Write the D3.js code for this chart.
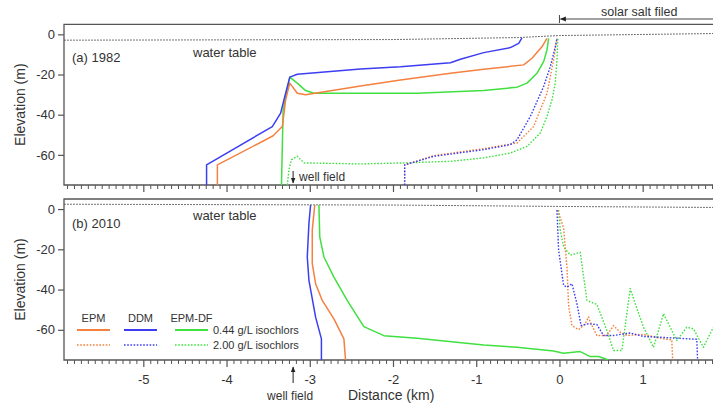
<!DOCTYPE html>
<html>
<head>
<meta charset="utf-8">
<script src="https://cdn.jsdelivr.net/npm/d3@7"></script>
<style>
  html, body { margin: 0; padding: 0; background: #fff; }
  svg { display: block; font-family: "Liberation Sans", Arial, sans-serif; }
</style>
</head>
<body>
<svg id="chart" width="713" height="405"></svg>
<script>
// ---------- data ----------
const xTicks = [-5, -4, -3, -2, -1, 0, 1];
const yTicks = [0, -20, -40, -60];
const models = ["EPM", "DDM", "EPM-DF"];
const isochlorLabels = ["0.44 g/L isochlors", "2.00 g/L isochlors"];
const panelLabels = ["(a) 1982", "(b) 2010"];

// (a) 1982 — [distance km, elevation m]
const a_EPM_044 = [[-4.11,-75],[-4.11,-65],[-3.44,-50.5],[-3.33,-45.9],[-3.29,-32.6],[-3.24,-24.3],[-3.15,-29.3],[-3.05,-30.1],[-2.39,-25.7],[-1.91,-22.7],[-1.31,-19.4],[-0.91,-17.4],[-0.43,-15.2],[-0.33,-11.9],[-0.21,-6.2],[-0.15,-2.0]];
const a_DDM_044 = [[-4.24,-75],[-4.24,-65],[-3.45,-45.9],[-3.35,-39.2],[-3.29,-29.3],[-3.24,-21.3],[-3.15,-19.9],[-2.39,-17.2],[-1.91,-16.1],[-1.31,-14.1],[-1.19,-12.4],[-0.91,-9.1],[-0.59,-6.6],[-0.49,-4.5],[-0.45,-1.7]];
const a_EPMDF_044 = [[-3.34,-75],[-3.32,-37.6],[-3.24,-21.3],[-3.15,-24.3],[-3.05,-28.0],[-2.95,-29.3],[-1.71,-29.3],[-0.91,-28.0],[-0.51,-26.3],[-0.39,-24.3],[-0.27,-19.4],[-0.19,-13.6],[-0.15,-7.8],[-0.13,-2.0]];
const a_EPM_200 = [[-1.86,-75],[-1.86,-65],[-1.51,-60.4],[-0.91,-56.9],[-0.51,-54.1],[-0.31,-45.9],[-0.15,-29.3],[-0.07,-12.8],[-0.03,-2.0]];
const a_DDM_200 = [[-1.86,-75],[-1.86,-65],[-1.51,-60.7],[-0.91,-57.4],[-0.59,-54.9],[-0.51,-52.5],[-0.35,-40.9],[-0.19,-26.0],[-0.11,-16.1],[-0.05,-6.2],[-0.03,-2.0]];
const a_EPMDF_200 = [[-3.27,-75],[-3.25,-67.3],[-3.22,-62.4],[-3.15,-60.7],[-3.07,-64.0],[-2.39,-64.5],[-1.87,-64.0],[-1.31,-63.2],[-0.91,-61.5],[-0.59,-59.1],[-0.39,-55.8],[-0.23,-49.1],[-0.15,-40.9],[-0.09,-32.6],[-0.05,-24.3],[-0.03,-12.8],[-0.02,-2.0]];
const a_waterTable = [[-5.95,-2.9],[-2,-2.6],[-0.5,-1.6],[0,-0.6],[1.85,0.4]];

// (b) 2010
const b_EPM_044 = [[-2.94,2],[-2.97,-10.5],[-2.97,-27.1],[-2.93,-37.1],[-2.85,-45.4],[-2.71,-54.6],[-2.59,-64.5],[-2.57,-75]];
const b_DDM_044 = [[-2.99,2],[-3.01,-7.1],[-3.03,-23.8],[-3.01,-35.4],[-2.93,-53.7],[-2.86,-64.5],[-2.86,-75]];
const b_EPMDF_044 = [[-2.89,2],[-2.88,-13.8],[-2.83,-23.8],[-2.71,-33.8],[-2.55,-45.4],[-2.45,-52],[-2.35,-58.4],[-2.11,-62.9],[-1.71,-64.2],[-0.91,-67.5],[-0.51,-68.7],[-0.07,-70.5],[0.05,-71.6],[0.25,-70.8],[0.37,-73.3],[0.47,-73.3],[0.59,-75]];
const b_EPM_200 = [[-0.02,-0.5],[0.05,-9.5],[0.09,-28.8],[0.11,-47.9],[0.15,-57.9],[0.23,-59.9],[0.31,-57.0],[0.35,-53.6],[0.37,-56.2],[0.45,-62.8],[0.57,-62.8],[0.65,-57.9],[0.73,-61.2],[0.81,-62.8],[1.01,-62.3],[1.25,-64.5],[1.35,-65.0],[1.36,-75]];
const b_DDM_200 = [[-0.03,-0.5],[-0.01,-20.4],[0.05,-37.9],[0.09,-38.8],[0.15,-37.1],[0.21,-47.0],[0.26,-57.9],[0.35,-57.0],[0.45,-57.4],[0.53,-62.8],[0.65,-62.8],[0.85,-61.6],[1.01,-63.3],[1.21,-63.7],[1.65,-64.7],[1.66,-75]];
const b_EPMDF_200 = [[-0.01,-0.5],[0.01,-10.5],[0.05,-18.8],[0.13,-22.9],[0.25,-21.5],[0.33,-45.4],[0.45,-47.4],[0.57,-60.3],[0.65,-70.3],[0.75,-70.3],[0.85,-39.5],[0.91,-47.0],[1.01,-58.7],[1.13,-68.7],[1.25,-52.0],[1.41,-65.3],[1.53,-58.7],[1.61,-59.5],[1.73,-68.7],[1.83,-60.3],[1.9,-55]];
const b_waterTable = [[-5.95,2.4],[-2,2.0],[0,1.3],[1.85,0.8]];

const wellFieldX = -3.2;
const saltFieldX = 0;

// ---------- styling ----------
const colors = { "EPM": "#f4813f", "DDM": "#3d3df2", "EPM-DF": "#3fe03f" };
const textColor = "#333";
const frameColor = "#555";

const svg = d3.select("#chart");
const left = 64, right = 713;
const x = d3.scaleLinear().domain([-5.953, 1.845]).range([left, right]);
const yA = d3.scaleLinear().domain([-75, 5]).range([185, 24.3]);
const yB = d3.scaleLinear().domain([-75, 5]).range([360, 199]);

const minorTicks = d3.range(Math.ceil(-5.953 * 12), Math.floor(1.845 * 12) + 1)
  .filter(k => k % 12 !== 0).map(k => k / 12);

function panel(id, y, label, series, water, showXLabels, labelY, waterLabelY) {
  const g = svg.append("g");
  const top = y.range()[1], bot = y.range()[0];
  svg.append("clipPath").attr("id", "clip" + id)
    .append("rect").attr("x", left).attr("y", top).attr("width", right - left + 10).attr("height", bot - top);

  // y axis
  const ya = g.append("g").attr("transform", `translate(${left},0)`)
    .call(d3.axisLeft(y).tickValues(yTicks).tickSize(6).tickPadding(3).tickFormat(d => String(d)));
  ya.select(".domain").remove();
  ya.selectAll(".tick line").attr("stroke", frameColor).attr("stroke-width", 1.2);
  ya.selectAll(".tick text").attr("fill", textColor).style("font-size", "13px");

  // x axis (major + minor)
  const xa = g.append("g").attr("transform", `translate(0,${bot})`)
    .call(d3.axisBottom(x).tickValues(xTicks).tickSize(7).tickPadding(8)
      .tickFormat(showXLabels ? (d => String(d)) : (() => "")));
  xa.select(".domain").remove();
  xa.selectAll(".tick line").attr("stroke", frameColor).attr("stroke-width", 1.2);
  xa.selectAll(".tick text").attr("fill", textColor).style("font-size", "13px");
  const xm = g.append("g").attr("transform", `translate(0,${bot})`)
    .call(d3.axisBottom(x).tickValues(minorTicks).tickSize(4).tickFormat(() => ""));
  xm.select(".domain").remove();
  xm.selectAll(".tick line").attr("stroke", frameColor).attr("stroke-width", 1);

  // frame (left, top, bottom)
  g.append("path")
    .attr("d", `M${right + 5},${top}H${left}V${bot}H${right + 5}`)
    .attr("fill", "none").attr("stroke", frameColor).attr("stroke-width", 1.3);

  const line = d3.line().x(d => x(d[0])).y(d => y(d[1]));
  const plot = g.append("g").attr("clip-path", `url(#clip${id})`);

  plot.append("path").datum(water).attr("d", line)
    .attr("fill", "none").attr("stroke", "#444").attr("stroke-width", 1)
    .attr("stroke-dasharray", "1.5,1.5");

  series.forEach(s => {
    plot.append("path").datum(s.data).attr("d", line)
      .attr("fill", "none").attr("stroke", colors[s.model])
      .attr("stroke-width", s.dotted ? 1.4 : 1.5)
      .attr("stroke-dasharray", s.dotted ? "1.6,1.6" : null)
      .attr("stroke-linejoin", "round");
  });

  g.append("text").attr("x", 72).attr("y", labelY).text(label)
    .attr("fill", textColor).style("font-size", "13px");
  g.append("text").attr("x", 193).attr("y", waterLabelY).text("water table")
    .attr("fill", textColor).style("font-size", "13px");
  return g;
}

panel("A", yA, panelLabels[0], [
  { model: "EPM-DF", dotted: true, data: a_EPMDF_200 },
  { model: "EPM", dotted: true, data: a_EPM_200 },
  { model: "DDM", dotted: true, data: a_DDM_200 },
  { model: "EPM-DF", dotted: false, data: a_EPMDF_044 },
  { model: "EPM", dotted: false, data: a_EPM_044 },
  { model: "DDM", dotted: false, data: a_DDM_044 }
], a_waterTable, false, 62, 57);

panel("B", yB, panelLabels[1], [
  { model: "EPM-DF", dotted: true, data: b_EPMDF_200 },
  { model: "EPM", dotted: true, data: b_EPM_200 },
  { model: "DDM", dotted: true, data: b_DDM_200 },
  { model: "EPM-DF", dotted: false, data: b_EPMDF_044 },
  { model: "EPM", dotted: false, data: b_EPM_044 },
  { model: "DDM", dotted: false, data: b_DDM_044 }
], b_waterTable, true, 228, 220);

// axis titles
svg.append("text").attr("transform", `translate(25,${(yA(5) + yA(-75)) / 2}) rotate(-90)`)
  .attr("text-anchor", "middle").attr("fill", textColor).style("font-size", "14px").text("Elevation (m)");
svg.append("text").attr("transform", `translate(25,${(yB(5) + yB(-75)) / 2}) rotate(-90)`)
  .attr("text-anchor", "middle").attr("fill", textColor).style("font-size", "14px").text("Elevation (m)");
svg.append("text").attr("x", 348).attr("y", 400).attr("fill", textColor)
  .style("font-size", "14px").text("Distance (km)");

// arrow marker
const defs = svg.append("defs");
defs.append("marker").attr("id", "arr").attr("viewBox", "0 0 10 10").attr("refX", 9).attr("refY", 5)
  .attr("markerWidth", 6).attr("markerHeight", 6).attr("orient", "auto-start-reverse")
  .append("path").attr("d", "M0,1L10,5L0,9z").attr("fill", "#222");

// well field (a)
const wx = x(wellFieldX);
svg.append("line").attr("x1", wx).attr("x2", wx).attr("y1", 171).attr("y2", 183)
  .attr("stroke", "#222").attr("stroke-width", 1).attr("marker-end", "url(#arr)");
svg.append("text").attr("x", wx + 6).attr("y", 181).attr("fill", textColor)
  .style("font-size", "12px").text("well field");

// well field (b)
svg.append("line").attr("x1", wx).attr("x2", wx).attr("y1", 383).attr("y2", 367)
  .attr("stroke", "#222").attr("stroke-width", 1).attr("marker-end", "url(#arr)");
svg.append("text").attr("x", wx - 3).attr("y", 400).attr("text-anchor", "middle").attr("fill", textColor)
  .style("font-size", "12px").text("well field");

// solar salt field
const sx = x(saltFieldX);
svg.append("line").attr("x1", sx).attr("x2", sx).attr("y1", 15).attr("y2", 23)
  .attr("stroke", "#444").attr("stroke-width", 1);
svg.append("line").attr("x1", 720).attr("x2", sx + 1).attr("y1", 19).attr("y2", 19)
  .attr("stroke", "#444").attr("stroke-width", 1).attr("marker-end", "url(#arr)");
svg.append("text").attr("x", 601).attr("y", 16).attr("fill", textColor)
  .style("font-size", "12.5px").text("solar salt filed");

// legend (panel b)
const legX = [77, 124, 175];
const legW = 33;
models.forEach((m, i) => {
  svg.append("text").attr("x", legX[i] + legW / 2).attr("y", 322).attr("text-anchor", "middle")
    .attr("fill", textColor).style("font-size", "11px").text(m);
  svg.append("line").attr("x1", legX[i]).attr("x2", legX[i] + legW).attr("y1", 330).attr("y2", 330)
    .attr("stroke", colors[m]).attr("stroke-width", 2);
  svg.append("line").attr("x1", legX[i]).attr("x2", legX[i] + legW).attr("y1", 345).attr("y2", 345)
    .attr("stroke", colors[m]).attr("stroke-width", 1.6).attr("stroke-dasharray", "1.6,1.6");
});
isochlorLabels.forEach((t, i) => {
  svg.append("text").attr("x", 213).attr("y", 334 + i * 15).attr("fill", textColor)
    .style("font-size", "11px").text(t);
});
</script>
</body>
</html>
